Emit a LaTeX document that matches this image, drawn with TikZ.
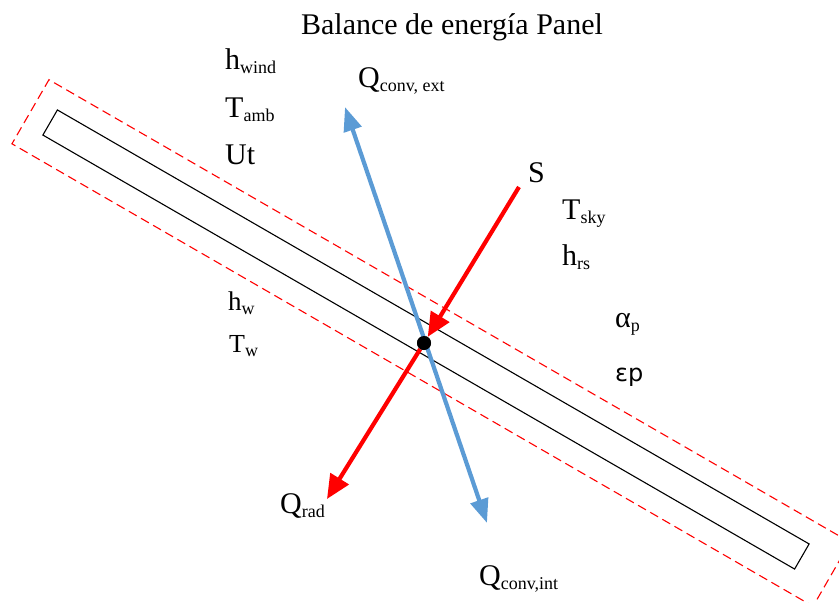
\documentclass[tikz,border=0pt]{standalone}
\usepackage{fontspec}
\setmainfont{Liberation Serif}
\newfontfamily\greekfont{DejaVu Sans}
\usepackage{tikz}
\usetikzlibrary{arrows.meta, positioning, calc}
\definecolor{blueq}{RGB}{91,155,213}
\newcommand{\lsub}[1]{\raisebox{-4pt}{\fontsize{18}{19}\selectfont #1}}
\tikzset{
    label_big/.style={anchor=base west, inner sep=0pt, font=\fontsize{30}{32}\selectfont},
    label_mid/.style={anchor=base west, inner sep=0pt, font=\fontsize{27}{29}\selectfont},
    panel_box/.style={rectangle, draw, line width=1.1pt, rotate=-30, minimum width=868pt, minimum height=29pt},
    panel_env/.style={rectangle, draw=red, line width=1.1pt, dash pattern=on 9pt off 5pt, rotate=-30, minimum width=925pt, minimum height=74pt},
    arrow_red/.style={-{Triangle[length=24pt,width=21pt]}, red, line width=4.2pt},
    arrow_blue/.style={{Triangle[length=24pt,width=18pt]}-{Triangle[length=24pt,width=18pt]}, blueq, line width=4.2pt}
}

\begin{document}
\begin{tikzpicture}[x=1pt, y=-1pt]

    \useasboundingbox (0,0) rectangle (839,603);
    \clip (0,0) rectangle (839,603);

    % Panel
    \node[panel_env] (env) at (431,343) {};
    \node[panel_box] (panel) at (426,339.5) {};

    % Title
    \node[anchor=base, inner sep=0pt, font=\fontsize{30}{32}\selectfont] (title) at (452,34) {Balance de energía Panel};

    % Labels outside
    \node[label_big] (hwind) at (225,69) {h\lsub{wind}};
    \node[label_big] (tamb) at (225,117) {T\lsub{amb}};
    \node[label_big] (ut) at (225,164) {Ut};
    \node[label_big] (qext) at (358,87) {Q\lsub{conv, ext}};
    \node[label_big] (s) at (528,182) {S};
    \node[label_big] (tsky) at (562,219) {T\lsub{sky}};
    \node[label_big] (hrs) at (562,265) {h\lsub{rs}};

    % Labels panel
    \node[label_mid] (hw) at (228,310) {h\lsub{w}};
    \node[anchor=base west, inner sep=0pt, font=\fontsize{26}{28}\selectfont] (tw) at (229,352) {T\lsub{w}};
    \node[label_big] (alpha) at (615,327) {α\lsub{p}};
    \node[anchor=base west, inner sep=0pt, font=\greekfont\fontsize{24}{26}\selectfont] (eps) at (615,381) {εp};

    % Labels bottom
    \node[label_big] (qrad) at (280,513) {Q\lsub{rad}};
    \node[label_big] (qint) at (479,585) {Q\lsub{conv,int}};

    % Arrows
    \coordinate (cext) at (345,107);
    \coordinate (cint) at (487,523);
    \coordinate (sun) at (519,187);
    \coordinate (rad) at (327,499);
    \node[circle, fill=black, inner sep=0pt, minimum size=14pt] (pt) at (424,343) {};

    \draw[arrow_blue] (cext) -- (cint);
    \draw[arrow_red] (sun) -- (pt);
    \draw[arrow_red] (pt) -- (rad);
    \node[circle, fill=black, inner sep=0pt, minimum size=14pt] at (pt) {};

\end{tikzpicture}
\end{document}
